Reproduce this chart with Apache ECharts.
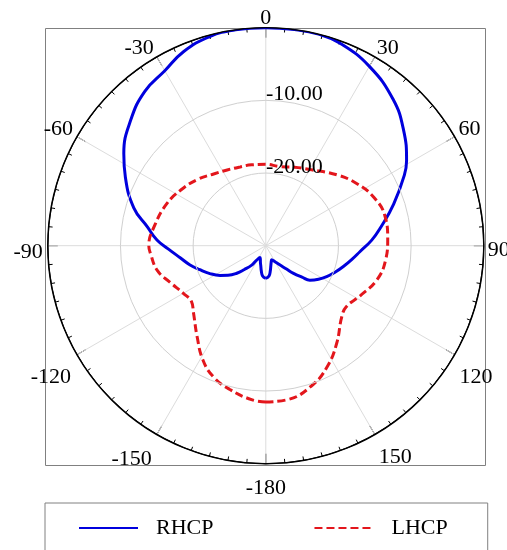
<!DOCTYPE html>
<html><head><meta charset="utf-8">
<script src="https://cdn.jsdelivr.net/npm/echarts@6/dist/echarts.min.js"></script>
<style>html,body{margin:0;padding:0;background:#fff}#c{width:507px;height:550px}</style>
</head><body><div id="c"></div>
<script>
// angle tick values (0..360, clockwise from top) and their printed labels
const angleTicks = [0, 30, 60, 90, 120, 150, 180, 210, 240, 270, 300, 330];
const angleTickLabels = ['0', '30', '60', '90', '120', '150', '-180', '-150', '-120', '-90', '-60', '-30'];
// radial (dB) ticks and labels
const radiusTicks = [-30, -20, -10, 0];
const radiusTickLabels = ['', '-20.00', '-10.00', ''];
const seriesNames = ['RHCP', 'LHCP'];

// RHCP: angle (deg) / gain (dB)
const rhcpAngles = [-180,-174,-170,-166,-162,-158,-154,-147,-144,-138,-133.5,-128,-123,-116.5,-110,-104,-98,-92,-87,-81,-74,-64,-57,-47,-38,-30,-23,-15,-8,0,8,14,20,30,41,50,59,63,72,81,87,93.5,99,105,111,117,122.5,128,131,135,138.5,143.5,149,157.5,162,166,170,174,180];
const rhcpValues = [-25.5,-25.8,-26.45,-27.15,-27.6,-28.0,-28.2,-27.5,-26.7,-25.6,-24.5,-23.4,-22.5,-21.4,-20.35,-19.2,-18.1,-16.6,-15.0,-13.5,-11.1,-8.5,-6.7,-4.6,-3.0,-2.2,-1.0,-0.2,0,0,0,0,-0.3,-1.5,-3.3,-5.25,-7.4,-8.6,-11.5,-14.0,-15.4,-17.0,-18.0,-18.95,-19.8,-20.6,-21.4,-22.3,-23.4,-24.6,-25.7,-26.7,-27.35,-27.9,-27.6,-27.15,-26.45,-25.8,-25.5];

// LHCP: angle (deg) / gain (dB)
const lhcpAngles = [-180,-175,-166,-158,-151,-143,-133,-127,-120,-111,-103,-94,-90,-79,-67,-57,-46,-36,-27,-18,-10,0,10,20,30,45,56,66,76,87,97,107,118,127,133,144,153,162,172,180];
const lhcpValues = [-8.5,-8.7,-9.6,-10.6,-12.1,-14.3,-16.4,-17.2,-16.9,-15.9,-14.7,-14.1,-13.9,-14.5,-15.2,-16.0,-16.9,-17.8,-18.3,-18.6,-18.7,-18.8,-18.95,-18.5,-17.9,-16.2,-14.8,-13.7,-13.1,-13.2,-13.4,-14.0,-15.3,-16.1,-15.7,-13.4,-11.35,-9.7,-8.6,-8.5];

const FONT = 'Liberation Serif';
const toPolar = (angles, values) => angles.map((a, i) => [values[i], (a + 360) % 360]);

// per-label box styling: [padding, lineHeight] (style only)
const labelBox = [
  [[0,0,0,0], 18], [[0,0,0,2], 18], [[0,0,0,4], 14], [[10,0,0,4], 22],
  [[0,0,0,5], 46], [[0,0,0,4], 46], [[0,0,0,0], 49], [[0,5,0,0], 50],
  [[0,6,0,0], 46], [[14,5,0,0], 22], [[0,4,0,0], 14], [[0,3,0,0], 18]
];
const rich = {};
labelBox.forEach((b, i) => { rich['a' + i] = { padding: b[0], lineHeight: b[1], fontFamily: FONT, fontSize: 22, color: '#000' }; });

const chart = echarts.init(document.getElementById('c'), null, { renderer: 'canvas' });
chart.setOption({
  backgroundColor: '#fff',
  animation: false,
  graphic: [{
    type: 'rect', z: 0,
    shape: { x: 45.5, y: 28.5, width: 440, height: 437 },
    style: { fill: 'none', stroke: '#808080', lineWidth: 1 }
  }],
  polar: { center: [265.8, 245.7], radius: 218 },
  angleAxis: {
    type: 'value', min: 0, max: 360, interval: 30, startAngle: 90, clockwise: true,
    axisLine: { show: true, lineStyle: { color: '#000', width: 1.5 } },
    axisTick: { show: true, inside: true, length: 10, lineStyle: { color: '#000', width: 1 } },
    minorTick: { show: true, splitNumber: 6, length: 4, lineStyle: { color: '#000', width: 1 } },
    splitLine: { show: true, lineStyle: { color: '#dcdcdc', width: 1 } },
    axisLabel: {
      margin: 0, fontFamily: FONT, fontSize: 22, color: '#000',
      formatter: (v) => { const i = angleTicks.indexOf(v); return i < 0 ? '' : '{a' + i + '|' + angleTickLabels[i] + '}'; },
      rich: rich
    }
  },
  radiusAxis: {
    type: 'value', min: -30, max: 0, interval: 10,
    axisLine: { show: false }, axisTick: { show: false },
    splitLine: { show: true, lineStyle: { color: ['#d0d0d0', '#d0d0d0', '#d0d0d0', '#000000'], width: 1 } },
    axisLabel: {
      margin: -57, fontFamily: FONT, fontSize: 22, color: '#000',
      verticalAlign: 'bottom', lineHeight: 12,
      formatter: (v) => { const i = radiusTicks.indexOf(v); return i < 0 ? '' : radiusTickLabels[i]; }
    },
    z: 5
  },
  legend: {
    data: seriesNames, left: 45, top: 503, orient: 'horizontal',
    itemWidth: 59, itemHeight: 14, itemGap: 100,
    padding: [14, 40, 20, 33],
    borderColor: '#808080', borderWidth: 1,
    itemStyle: { opacity: 0 },
    textStyle: { fontFamily: FONT, fontSize: 22, color: '#000', padding: [0, 0, 0, 13] }
  },
  series: [
    {
      name: seriesNames[0], type: 'line', coordinateSystem: 'polar',
      data: toPolar(rhcpAngles, rhcpValues), symbol: 'none', smooth: 0.45,
      lineStyle: { color: '#0000dd', width: 3 }, itemStyle: { color: '#0000dd' }
    },
    {
      name: seriesNames[1], type: 'line', coordinateSystem: 'polar',
      data: toPolar(lhcpAngles, lhcpValues), symbol: 'none', smooth: 0.45,
      lineStyle: { color: '#e3161c', width: 3, type: [8, 4] }, itemStyle: { color: '#e3161c' }
    }
  ]
});
</script>
</body></html>
